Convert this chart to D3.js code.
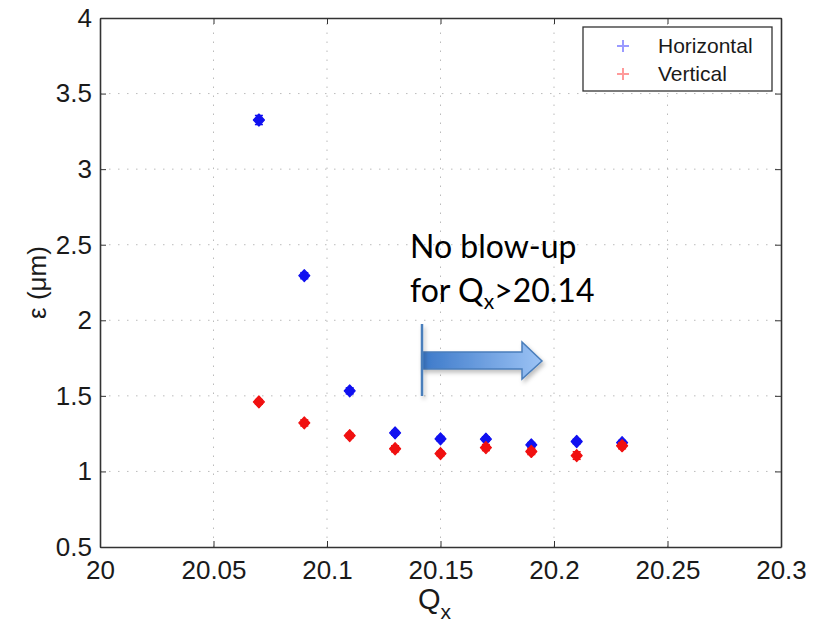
<!DOCTYPE html>
<html>
<head>
<meta charset="utf-8">
<script src="https://cdn.jsdelivr.net/npm/d3@7"></script>
<style>
  body { margin: 0; background: #fff; }
  svg { display: block; }
</style>
</head>
<body>
<svg id="chart" width="814" height="624"></svg>
<script>
// Tune values and measured emittances
const qx = [20.07, 20.09, 20.11, 20.13, 20.15, 20.17, 20.19, 20.21, 20.23];
const horizontal = [3.325, 2.295, 1.533, 1.255, 1.216, 1.214, 1.176, 1.198, 1.190];
const horizontalErr = [0.03, 0.02, 0.02, 0.015, 0.015, 0.015, 0.015, 0.015, 0.015];
const vertical = [1.460, 1.321, 1.237, 1.150, 1.118, 1.158, 1.132, 1.105, 1.170];
const verticalErr = [0.015, 0.02, 0.015, 0.02, 0.015, 0.02, 0.02, 0.025, 0.02];
const xTicks = [20, 20.05, 20.1, 20.15, 20.2, 20.25, 20.3];
const yTicks = [0.5, 1, 1.5, 2, 2.5, 3, 3.5, 4];
const seriesNames = ["Horizontal", "Vertical"];

const svg = d3.select("#chart");
const m = { left: 100, right: 781, top: 18, bottom: 547 };

const x = d3.scaleLinear().domain([20, 20.3]).range([m.left, m.right]);
const y = d3.scaleLinear().domain([0.5, 4]).range([m.bottom, m.top]);

const axisFont = "'Liberation Sans', Arial, Helvetica, sans-serif";

// dotted grid
const grid = svg.append("g").attr("stroke", "#bbb").attr("stroke-width", 1)
  .attr("stroke-dasharray", "1.5,7.5");
grid.selectAll(".gx").data(xTicks.slice(1, -1)).join("line")
  .attr("x1", d => x(d)).attr("x2", d => x(d))
  .attr("y1", m.bottom).attr("y2", m.top);
grid.selectAll(".gy").data(yTicks.slice(1, -1)).join("line")
  .attr("y1", d => y(d)).attr("y2", d => y(d))
  .attr("x1", m.left).attr("x2", m.right);

// axes with inward ticks on all four sides
const tickLen = 6;
const bottomAxis = d3.axisBottom(x).tickValues(xTicks).tickSize(-tickLen).tickSizeOuter(0)
  .tickPadding(14).tickFormat(d3.format(""));
const leftAxis = d3.axisLeft(y).tickValues(yTicks).tickSize(-tickLen).tickSizeOuter(0)
  .tickPadding(8).tickFormat(d3.format(""));
const topAxis = d3.axisTop(x).tickValues(xTicks).tickSize(-tickLen).tickSizeOuter(0).tickFormat("");
const rightAxis = d3.axisRight(y).tickValues(yTicks).tickSize(-tickLen).tickSizeOuter(0).tickFormat("");

function styleAxis(g) {
  g.select(".domain").attr("stroke", "#333").attr("stroke-width", 1.6);
  g.selectAll(".tick line").attr("stroke", "#333").attr("stroke-width", 1);
  g.selectAll(".tick text").attr("fill", "#1a1a1a")
    .style("font-family", axisFont).style("font-size", "26px");
}

svg.append("g").attr("transform", `translate(0,${m.bottom})`).call(bottomAxis).call(styleAxis);
svg.append("g").attr("transform", `translate(${m.left},0)`).call(leftAxis).call(styleAxis);
svg.append("g").attr("transform", `translate(0,${m.top})`).call(topAxis).call(styleAxis);
svg.append("g").attr("transform", `translate(${m.right},0)`).call(rightAxis).call(styleAxis);

// axis titles
svg.append("text")
  .attr("transform", `translate(46,${(m.top + m.bottom) / 2}) rotate(-90)`)
  .attr("text-anchor", "middle")
  .style("font-family", axisFont).style("font-size", "26px").attr("fill", "#1a1a1a")
  .text("ε (μm)");
const qLabel = svg.append("text")
  .attr("x", 418).attr("y", 609)
  .style("font-family", axisFont).style("font-size", "29px").attr("fill", "#1a1a1a");
qLabel.append("tspan").text("Q");
qLabel.append("tspan").attr("dy", 10).style("font-size", "21px").text("x");

// data markers with error bars
function drawSeries(vals, errs, color) {
  const g = svg.append("g").attr("stroke", color).attr("fill", color);
  qx.forEach((q, i) => {
    const cx = x(q), cy = y(vals[i]);
    const lo = y(vals[i] - errs[i]), hi = y(vals[i] + errs[i]);
    const cap = 4;
    g.append("line").attr("x1", cx).attr("x2", cx).attr("y1", lo).attr("y2", hi).attr("stroke-width", 1.5);
    g.append("line").attr("x1", cx - cap).attr("x2", cx + cap).attr("y1", lo).attr("y2", lo).attr("stroke-width", 1.5);
    g.append("line").attr("x1", cx - cap).attr("x2", cx + cap).attr("y1", hi).attr("y2", hi).attr("stroke-width", 1.5);
    g.append("path")
      .attr("d", `M${cx},${cy - 6}L${cx + 5.5},${cy}L${cx},${cy + 6}L${cx - 5.5},${cy}Z`)
      .attr("stroke-width", 1.2).attr("stroke-linejoin", "round");
  });
}
drawSeries(horizontal, horizontalErr, "#1010f0");
drawSeries(vertical, verticalErr, "#f01010");

// legend
const legend = svg.append("g");
legend.append("rect").attr("x", 583).attr("y", 27).attr("width", 189).attr("height", 64)
  .attr("fill", "#fff").attr("stroke", "#333").attr("stroke-width", 1.3);
const legendColors = ["#9a9aff", "#ff9a9a"];
seriesNames.forEach((name, i) => {
  const ly = 46 + i * 28;
  legend.append("path").attr("d", `M617,${ly}h12M623,${ly - 6}v12`)
    .attr("stroke", legendColors[i]).attr("stroke-width", 2);
  legend.append("text").attr("x", 658).attr("y", ly + 7)
    .style("font-family", axisFont).style("font-size", "21px").attr("fill", "#1a1a1a")
    .text(name);
});

// annotation
const note = svg.append("g").style("font-family", "Lato, 'Open Sans', sans-serif")
  .style("font-size", "32px").attr("fill", "#000");
note.append("text").attr("x", 410).attr("y", 258).text("No blow-up");
const l2 = note.append("text").attr("x", 410).attr("y", 302);
l2.append("tspan").text("for Q");
l2.append("tspan").attr("dy", 7).style("font-size", "21px").text("x");
l2.append("tspan").attr("dy", -7).text(">20.14");

// arrow with gradient fill
const defs = svg.append("defs");
const grad = defs.append("linearGradient").attr("id", "arrowGrad");
grad.append("stop").attr("offset", "0%").attr("stop-color", "#3c79c9");
grad.append("stop").attr("offset", "100%").attr("stop-color", "#9cc3f5");
const shadow = defs.append("filter").attr("id", "shadow").attr("filterUnits", "userSpaceOnUse")
  .attr("x", 380).attr("y", 300).attr("width", 200).attr("height", 130);
shadow.append("feDropShadow").attr("dx", 2).attr("dy", 3).attr("stdDeviation", 2)
  .attr("flood-color", "#000").attr("flood-opacity", 0.25);

svg.append("path")
  .attr("d", "M422,352H522V342L542,361L522,379V369H422Z")
  .attr("fill", "url(#arrowGrad)").attr("stroke", "#4a7ebb").attr("stroke-width", 1.5)
  .attr("filter", "url(#shadow)");
svg.append("line").attr("x1", 422).attr("x2", 422).attr("y1", 324).attr("y2", 396)
  .attr("stroke", "#4a7ebb").attr("stroke-width", 2.5).attr("filter", "url(#shadow)");
</script>
</body>
</html>
